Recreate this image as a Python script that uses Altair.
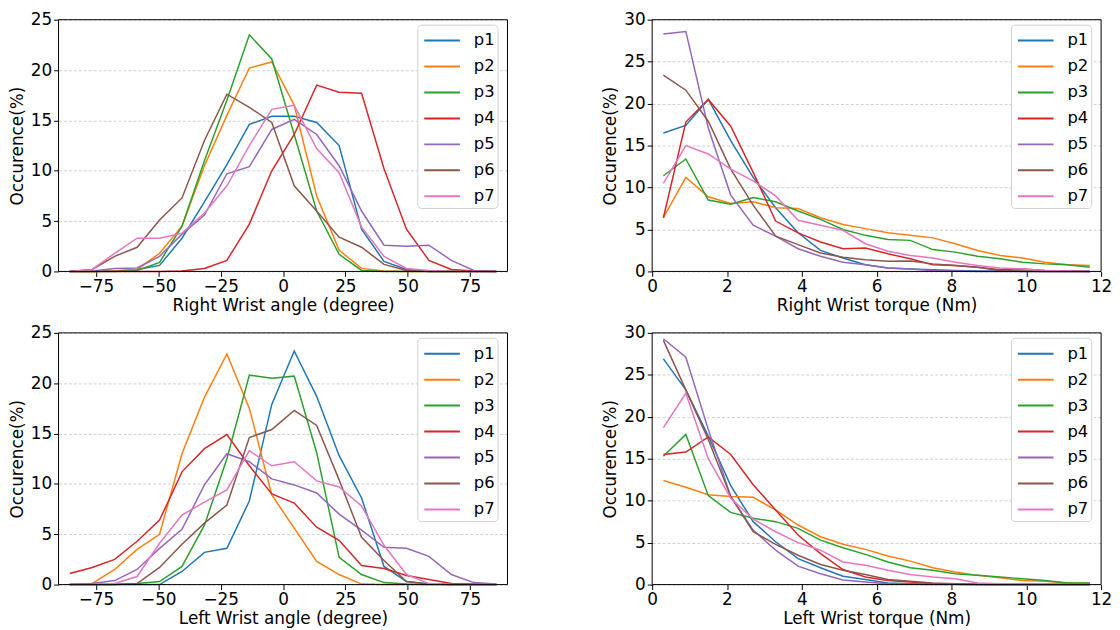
import altair as alt
import pandas as pd

SERIES = ["p1", "p2", "p3", "p4", "p5", "p6", "p7"]
COLORS = ["#1f77b4", "#ff7f0e", "#2ca02c", "#d62728", "#9467bd", "#8c564b", "#e377c2"]

ANGLE_BINS = [-85.5, -76.5, -67.5, -58.5, -49.5, -40.5, -31.5, -22.5, -13.5, -4.5,
              4.5, 13.5, 22.5, 31.5, 40.5, 49.5, 58.5, 67.5, 76.5, 85.5]
TORQUE_BINS = [0.3, 0.9, 1.5, 2.1, 2.7, 3.3, 3.9, 4.5, 5.1, 5.7,
               6.3, 6.9, 7.5, 8.1, 8.7, 9.3, 9.9, 10.5, 11.1, 11.7]

# Right wrist angle
ra_p1 = [0, 0, 0.05, 0.2, 0.6, 3.3, 6.9, 10.6, 14.6, 15.4, 15.4, 14.8, 12.5, 4.2, 1.0, 0.2, 0, 0, 0, 0]
ra_p2 = [0, 0, 0.05, 0.2, 1.8, 4.5, 10.5, 15.5, 20.2, 20.8, 16.5, 7.5, 2.1, 0.3, 0.05, 0, 0, 0, 0, 0]
ra_p3 = [0, 0, 0, 0.1, 0.9, 4.5, 11.0, 17.0, 23.5, 21.1, 13.6, 6.0, 1.7, 0.1, 0, 0, 0, 0, 0, 0]
ra_p4 = [0, 0, 0, 0, 0, 0.05, 0.3, 1.1, 4.7, 10.0, 13.6, 18.5, 17.8, 17.7, 10.2, 4.2, 1.1, 0.2, 0.05, 0]
ra_p5 = [0, 0.05, 0.3, 0.35, 1.5, 3.7, 5.6, 9.7, 10.4, 14.1, 15.1, 13.6, 10.5, 6.0, 2.6, 2.5, 2.6, 1.1, 0.1, 0]
ra_p6 = [0, 0.2, 1.5, 2.4, 5.1, 7.3, 13.0, 17.6, 16.3, 14.8, 8.5, 6.0, 3.4, 2.4, 0.7, 0.1, 0, 0, 0, 0]
ra_p7 = [0, 0.2, 1.8, 3.3, 3.3, 3.8, 5.8, 8.5, 12.5, 16.1, 16.5, 12.2, 9.8, 4.4, 1.5, 0.3, 0.1, 0, 0, 0]

# Right wrist torque
rt_p1 = [16.5, 17.4, 20.5, 15.6, 11.2, 7.6, 4.6, 2.5, 1.6, 0.8, 0.4, 0.3, 0.2, 0.1, 0.05, 0.05, 0, 0, 0, 0]
rt_p2 = [6.4, 11.2, 8.9, 8.1, 8.3, 7.6, 7.5, 6.4, 5.6, 5.1, 4.6, 4.3, 4.0, 3.3, 2.5, 1.9, 1.6, 1.1, 0.8, 0.7]
rt_p3 = [11.4, 13.4, 8.5, 8.0, 8.8, 8.3, 7.2, 6.2, 5.0, 4.3, 3.8, 3.7, 2.6, 2.3, 1.8, 1.5, 1.1, 0.9, 0.8, 0.5]
rt_p4 = [6.4, 17.8, 20.5, 17.3, 11.8, 6.0, 4.6, 3.5, 2.7, 2.8, 2.1, 1.5, 0.8, 0.7, 0.5, 0.2, 0.3, 0.1, 0.05, 0]
rt_p5 = [28.3, 28.6, 17.1, 9.1, 5.5, 4.2, 2.7, 1.8, 1.1, 0.8, 0.4, 0.3, 0.1, 0.05, 0, 0, 0, 0, 0, 0]
rt_p6 = [23.4, 21.6, 17.9, 12.2, 7.9, 4.2, 3.2, 2.2, 1.7, 1.4, 1.2, 1.25, 0.9, 0.7, 0.5, 0.1, 0.05, 0, 0, 0]
rt_p7 = [10.5, 15.0, 14.0, 12.2, 10.8, 9.0, 6.1, 5.5, 4.9, 3.3, 2.4, 1.9, 1.6, 1.1, 0.7, 0.4, 0.3, 0.1, 0.05, 0]

# Left wrist angle
la_p1 = [0, 0, 0, 0, 0, 1.3, 3.2, 3.6, 8.3, 17.9, 23.2, 18.7, 12.8, 8.6, 1.8, 0.3, 0.05, 0, 0, 0]
la_p2 = [0, 0.1, 1.5, 3.5, 5.0, 13.0, 18.6, 22.9, 17.5, 8.9, 5.6, 2.3, 1.0, 0.05, 0, 0, 0, 0, 0, 0]
la_p3 = [0, 0, 0, 0.1, 0.3, 1.8, 5.9, 12.5, 20.8, 20.5, 20.7, 13.1, 2.7, 1.0, 0.2, 0.05, 0, 0, 0, 0]
la_p4 = [1.1, 1.7, 2.5, 4.3, 6.4, 11.2, 13.5, 14.9, 11.8, 9.0, 8.1, 5.7, 4.4, 1.9, 1.6, 0.9, 0.5, 0.1, 0.05, 0]
la_p5 = [0, 0.1, 0.4, 1.5, 3.6, 5.5, 9.9, 13.0, 12.2, 10.5, 9.9, 9.1, 7.0, 5.4, 3.7, 3.6, 2.8, 1.0, 0.2, 0.05]
la_p6 = [0, 0, 0, 0.1, 1.7, 4.0, 6.1, 7.9, 14.6, 15.4, 17.3, 15.8, 10.4, 4.7, 2.4, 0.3, 0.05, 0, 0, 0]
la_p7 = [0, 0, 0.1, 0.8, 4.1, 6.9, 8.2, 9.4, 13.3, 11.8, 12.2, 10.3, 9.7, 7.8, 3.9, 1.0, 0.1, 0, 0, 0]

# Left wrist torque
lt_p1 = [26.9, 23.2, 17.7, 11.8, 7.5, 5.1, 3.1, 2.0, 1.0, 0.6, 0.2, 0.1, 0.05, 0.05, 0, 0, 0, 0, 0, 0]
lt_p2 = [12.4, 11.6, 10.7, 10.5, 10.4, 8.9, 7.1, 5.7, 4.8, 4.2, 3.4, 2.8, 2.0, 1.5, 1.1, 0.8, 0.5, 0.4, 0.2, 0.15]
lt_p3 = [15.3, 17.9, 10.6, 8.6, 7.9, 7.5, 6.7, 5.3, 4.4, 3.6, 2.7, 2.0, 1.7, 1.3, 1.1, 0.9, 0.7, 0.5, 0.2, 0.2]
lt_p4 = [15.5, 15.8, 17.6, 15.5, 11.9, 8.9, 5.9, 3.7, 1.8, 0.9, 0.5, 0.3, 0.1, 0.05, 0, 0, 0, 0, 0, 0]
lt_p5 = [29.3, 27.1, 18.5, 10.5, 6.5, 4.1, 2.2, 1.3, 0.55, 0.3, 0.1, 0.05, 0, 0, 0, 0, 0, 0, 0, 0]
lt_p6 = [29.1, 23.2, 17.3, 10.5, 6.3, 4.8, 3.5, 2.4, 1.7, 1.2, 0.6, 0.4, 0.2, 0.1, 0.05, 0, 0, 0, 0, 0]
lt_p7 = [18.7, 22.8, 15.0, 10.3, 7.8, 6.3, 5.0, 4.1, 2.7, 2.3, 1.7, 1.2, 0.9, 0.7, 0.2, 0.1, 0, 0, 0, 0]

FONT = "DejaVu Sans"
W, H = 453, 254


def make_df(bins, series_lists):
    rows = []
    for name, vals in zip(SERIES, series_lists):
        for i, (xv, yv) in enumerate(zip(bins, vals)):
            rows.append({"x": xv, "y": yv, "series": name, "order": i})
    return pd.DataFrame(rows)


def panel(df, xtitle, xdomain, xticks, ymax):
    lines = alt.Chart(df).mark_line(strokeWidth=1.5).encode(
        x=alt.X("x:Q", title=xtitle,
                scale=alt.Scale(domain=xdomain, nice=False, zero=False),
                axis=alt.Axis(values=xticks, grid=False, format="d", labelFlush=False)),
        y=alt.Y("y:Q", title="Occurence(%)",
                scale=alt.Scale(domain=[0, ymax], nice=False),
                axis=alt.Axis(values=list(range(0, ymax + 1, 5)), grid=True, format="d",
                              labelFlush=False)),
        color=alt.Color("series:N",
                        scale=alt.Scale(domain=SERIES, range=COLORS),
                        legend=alt.Legend(title=None, orient="none", legendX=362, legendY=5,
                                          symbolType="M-0.75,0H2.25", symbolSize=576,
                                          symbolStrokeWidth=2, labelFontSize=16.5,
                                          labelFont=FONT, labelColor="black",
                                          labelOffset=28, rowPadding=4.2, padding=3,
                                          strokeColor="#d0d0d0", fillColor="white",
                                          cornerRadius=4)),
        order="order:Q",
    )
    frame = alt.Chart(pd.DataFrame({"f": [0]})).mark_rect(
        fill="transparent", stroke="black", strokeWidth=1
    ).encode(x=alt.value(0), x2=alt.value(W), y=alt.value(0), y2=alt.value(H))
    return alt.layer(lines, frame).properties(width=W, height=H)


c_ra = panel(make_df(ANGLE_BINS, [ra_p1, ra_p2, ra_p3, ra_p4, ra_p5, ra_p6, ra_p7]),
             "Right Wrist angle (degree)", [-90, 90], [-75, -50, -25, 0, 25, 50, 75], 25)
c_rt = panel(make_df(TORQUE_BINS, [rt_p1, rt_p2, rt_p3, rt_p4, rt_p5, rt_p6, rt_p7]),
             "Right Wrist torque (Nm)", [0, 12], [0, 2, 4, 6, 8, 10, 12], 30)
c_la = panel(make_df(ANGLE_BINS, [la_p1, la_p2, la_p3, la_p4, la_p5, la_p6, la_p7]),
             "Left Wrist angle (degree)", [-90, 90], [-75, -50, -25, 0, 25, 50, 75], 25)
c_lt = panel(make_df(TORQUE_BINS, [lt_p1, lt_p2, lt_p3, lt_p4, lt_p5, lt_p6, lt_p7]),
             "Left Wrist torque (Nm)", [0, 12], [0, 2, 4, 6, 8, 10, 12], 30)

top = alt.hconcat(c_ra, c_rt, spacing=94).resolve_legend(color="independent").resolve_scale(color="independent")
bottom = alt.hconcat(c_la, c_lt, spacing=94).resolve_legend(color="independent").resolve_scale(color="independent")

chart = alt.vconcat(top, bottom, spacing=11).resolve_legend(color="independent").resolve_scale(color="independent").properties(
    padding={"left": 0, "top": 0, "right": 0, "bottom": 0}
).configure_view(
    strokeWidth=0
).configure_axis(
    labelFont=FONT, titleFont=FONT, labelFontSize=17, titleFontSize=17,
    labelColor="black", titleColor="black", titleFontWeight="normal",
    tickColor="black", tickSize=5, tickWidth=1, domain=False, labelFlush=False,
    labelPadding=2, gridColor="#c4c4c4", gridDash=[3, 2], gridWidth=0.8
).configure_axisY(
    titlePadding=4
).configure_axisX(
    titlePadding=3
)

chart.save("out.html", embed_options={"renderer": "svg", "actions": False})
